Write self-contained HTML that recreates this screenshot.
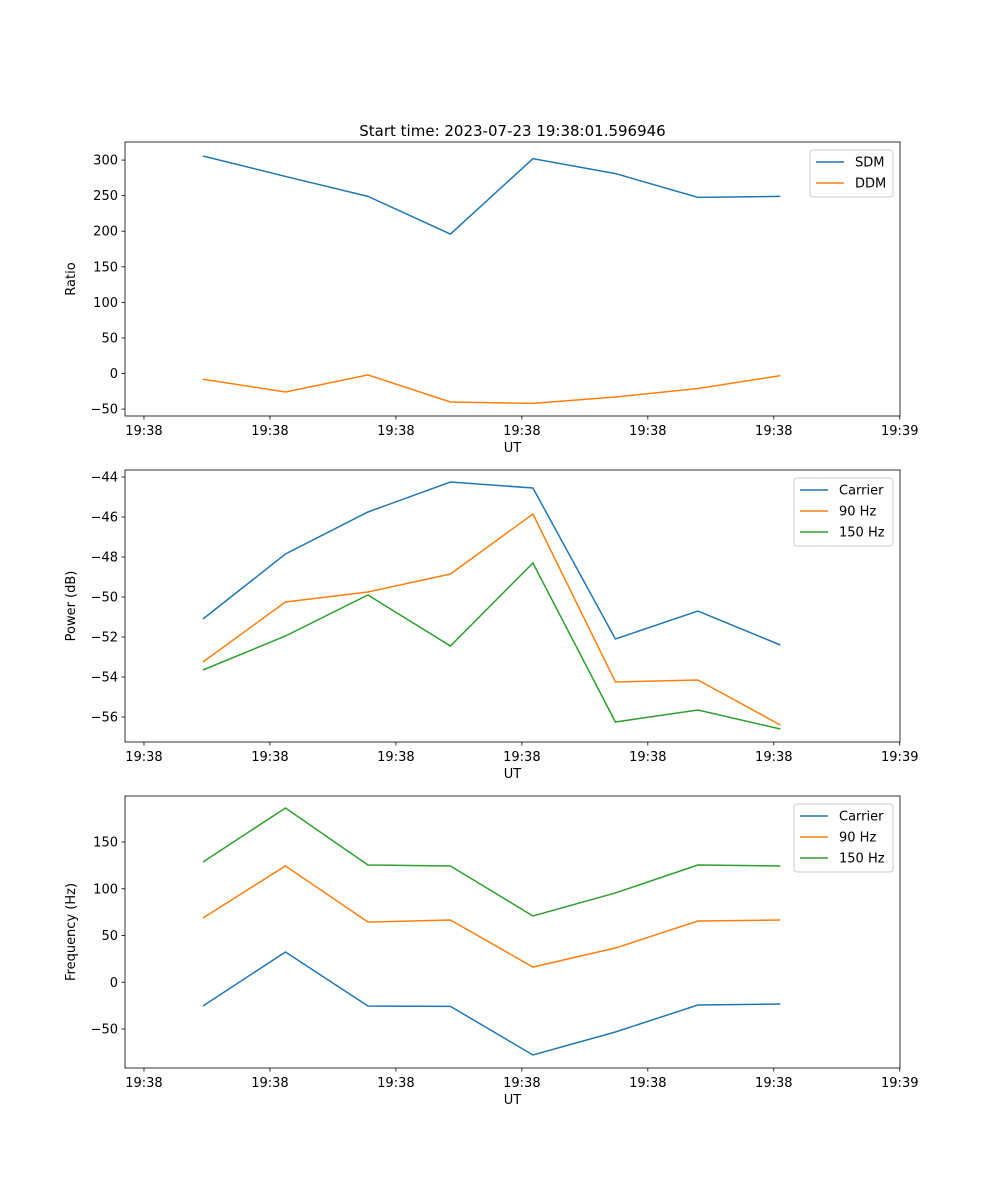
<!DOCTYPE html>
<html><head><meta charset="utf-8"><style>
body{margin:0;background:#fff;}
svg{display:block;font-family:"DejaVu Sans","Liberation Sans",sans-serif;}
</style></head><body>
<svg id="fig" width="1000" height="1200" xmlns="http://www.w3.org/2000/svg"></svg>
<script>
const xIdx = [0,1,2,3,4,5,6,7];
const xTickPos = [-0.715,0.812,2.339,3.866,5.393,6.920,8.447];
const xTickLabels = ["19:38","19:38","19:38","19:38","19:38","19:38","19:39"];
const sdm = [305.7,277,249,196,302,281,247.6,249];
const ddm = [-8,-26,-2,-40,-42,-33,-21,-3];
const powCarrier = [-51.1,-47.85,-45.75,-44.25,-44.55,-52.1,-50.7,-52.4];
const pow90 = [-53.25,-50.25,-49.75,-48.85,-45.85,-54.25,-54.15,-56.4];
const pow150 = [-53.65,-51.95,-49.9,-52.45,-48.3,-56.25,-55.65,-56.6];
const frqCarrier = [-25.4,32.4,-25.4,-25.8,-77.8,-53.2,-24.3,-23.3];
const frq90 = [68.7,124.4,64.4,66.6,16.3,36.6,65.5,66.6];
const frq150 = [128.6,186.4,125.4,124.4,70.9,95.5,125.4,124.4];
const ticks1 = [-50,0,50,100,150,200,250,300];
const ticks2 = [-56,-54,-52,-50,-48,-46,-44];
const ticks3 = [-50,0,50,100,150];
const labels2 = ["\u221256","\u221254","\u221252","\u221250","\u221248","\u221246","\u221244"];

const C=['#1f77b4','#ff7f0e','#2ca02c'];
const NS='http://www.w3.org/2000/svg';
const fig=document.getElementById('fig');
function el(tag,attrs,parent,text){const e=document.createElementNS(NS,tag);for(const k in attrs)e.setAttribute(k,attrs[k]);if(text!==undefined)e.textContent=text;(parent||fig).appendChild(e);return e;}
const L=125,R=900,X0=-0.945,X1=8.45;
const sx=v=>L+(v-X0)/(X1-X0)*(R-L);

function panel(name,top,bot,y0,y1,ticks,tlabels,ylabel,series,names,legendX,legendW){
  const g=el('g',{},fig);
  
  
  const sy=v=>bot-(v-y0)/(y1-y0)*(bot-top);
  ticks.forEach((t,i)=>{
    const y=sy(t);
    const ln=el('line',{x1:L-3.5,x2:L,y1:y,y2:y,stroke:'#000','stroke-width':0.8},g);
    
    
    const tx=el('text',{x:L-7,y:y+4.5,'font-size':13,'text-anchor':'end'},g,tlabels?tlabels[i]:(t<0?'\u2212'+(-t):String(t)));
    
    
  });
  xTickPos.forEach((t,i)=>{
    const x=sx(t);
    const ln=el('line',{x1:x,x2:x,y1:bot,y2:bot+3.5,stroke:'#000','stroke-width':0.8},g);
    
    
    const tx=el('text',{x:x,y:bot+19,'font-size':13,'text-anchor':'middle'},g,xTickLabels[i]);
    
    
  });
  series.forEach((s,k)=>{
    const p=el('polyline',{points:s.map((v,i)=>sx(xIdx[i])+','+sy(v)).join(' '),fill:'none',stroke:C[k],'stroke-width':1.5},g);
    
    
  });
  const fr=el('rect',{x:L,y:top,width:R-L,height:bot-top,fill:'none',stroke:'#000','stroke-width':0.8},g);
  
  
  const xl=el('text',{x:(L+R)/2,y:bot+36,'font-size':13,'text-anchor':'middle'},g,'UT');
  
  
  const yl=el('text',{x:0,y:0,'font-size':13,'text-anchor':'middle',transform:`translate(${L-50},${(top+bot)/2}) rotate(-90)`},g,ylabel);
  
  
  const lg=el('g',{},g);
  
  
  const lh=names.length*21+5;
  el('rect',{x:legendX,y:top+8,width:legendW,height:lh,rx:3,fill:'#fff',stroke:'#ccc','stroke-width':1},lg);
  names.forEach((n,k)=>{
    const y=top+20+k*21;
    const e=el('g',{},lg);
    
    
    el('line',{x1:legendX+6,x2:legendX+34,y1:y,y2:y,stroke:C[k],'stroke-width':1.5},e);
    el('text',{x:legendX+45,y:y+4.5,'font-size':13},e,n);
  });
}
const t=el('text',{x:512.5,y:136,'font-size':15,'text-anchor':'middle'},fig,'Start time: 2023-07-23 19:38:01.596946');


panel('ratio-panel',142,416,-59.7,325.4,ticks1,null,'Ratio',[sdm,ddm],['SDM','DDM'],810,83);
panel('power-panel',470,742,-57.25,-43.65,ticks2,labels2,'Power (dB)',[powCarrier,pow90,pow150],['Carrier','90 Hz','150 Hz'],794,99);
panel('frequency-panel',796,1068,-91.7,199.2,ticks3,null,'Frequency (Hz)',[frqCarrier,frq90,frq150],['Carrier','90 Hz','150 Hz'],794,99);
</script>
</body></html>
